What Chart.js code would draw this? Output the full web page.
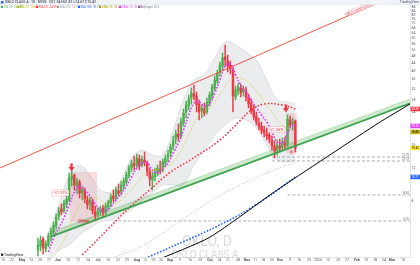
<!DOCTYPE html>
<html>
<head>
<meta charset="utf-8">
<script src="https://cdn.jsdelivr.net/npm/chart.js@4.4.0/dist/chart.umd.min.js"></script>
<style>
  html, body { margin: 0; padding: 0; background: #fff; }
  #wrap { width: 420px; height: 265px; position: relative; }
</style>
</head>
<body>
<div id="wrap"><canvas id="chart"></canvas></div>
<script>
// daily candles, x = bar index
const opens = [
  4.36, 4.58, 5.00, 4.42, 4.64, 5.25, 5.45, 5.87, 6.65, 7.25,
  7.07, 7.71, 8.10, 10.51, 11.04, 9.63, 10.12, 8.83, 9.17, 8.10,
  7.71, 8.00, 6.98, 6.73, 6.98, 7.34, 6.90, 7.43, 7.80, 8.51,
  8.30, 9.06, 8.94, 9.63, 10.12, 10.90, 12.04, 12.65, 12.49, 13.46,
  12.49, 13.29, 12.81, 11.60, 10.38, 10.77, 11.32, 11.89, 11.74, 12.81,
  13.79, 14.49, 15.80, 17.24, 18.34, 17.89, 21.01, 24.08, 25.93, 28.63,
  30.09, 29.35, 26.58, 24.38, 24.99, 24.08, 26.92, 29.35, 32.41, 35.34,
  39.50, 42.55, 47.57, 45.26, 43.08, 40.49, 28.99, 31.22, 32.41, 30.84,
  31.61, 28.99, 26.92, 24.68, 22.91, 21.01, 20.25, 19.27, 18.34, 18.11,
  17.02, 15.80, 15.04, 15.80, 15.61, 16.40, 16.00, 21.81, 20.75, 21.54
];
const highs = [
  5.06, 5.19, 5.12, 4.88, 5.38, 5.73, 6.17, 6.81, 7.43, 7.71,
  8.10, 8.51, 11.32, 12.04, 11.18, 10.64, 10.38, 9.63, 9.40, 8.51,
  8.41, 8.20, 7.52, 7.34, 7.52, 7.61, 7.80, 8.10, 8.73, 9.17,
  9.51, 9.87, 10.25, 10.64, 11.46, 12.49, 13.29, 13.97, 14.32, 14.14,
  13.97, 14.67, 13.13, 12.04, 11.46, 12.04, 12.49, 13.13, 13.46, 14.14,
  15.04, 16.20, 17.89, 19.27, 20.75, 22.35, 24.99, 27.59, 29.72, 32.41,
  33.63, 30.84, 27.93, 26.26, 26.92, 28.63, 30.84, 34.05, 37.60, 40.49,
  44.71, 49.98, 55.19, 48.76, 45.26, 42.03, 33.22, 34.48, 34.05, 33.22,
  32.81, 30.09, 28.28, 26.26, 24.08, 22.35, 21.27, 20.25, 19.75, 19.27,
  17.89, 16.81, 17.02, 17.24, 17.46, 17.67, 23.20, 22.91, 22.35, 21.81
];
const lows = [
  4.05, 4.31, 4.15, 4.26, 4.53, 4.88, 5.19, 5.66, 6.32, 6.73,
  6.90, 7.34, 7.90, 9.63, 9.17, 8.73, 8.30, 8.10, 7.80, 7.25,
  7.16, 6.81, 6.32, 6.48, 6.65, 6.56, 6.73, 7.16, 7.43, 7.90,
  8.10, 8.51, 8.62, 9.28, 9.87, 10.64, 11.46, 11.74, 12.04, 11.74,
  12.19, 12.34, 10.90, 9.63, 9.17, 10.25, 10.90, 11.18, 11.46, 12.34,
  12.97, 13.79, 15.04, 16.20, 16.81, 17.24, 20.25, 22.35, 24.68, 26.58,
  27.93, 24.08, 21.81, 22.35, 22.91, 23.49, 25.93, 28.28, 31.22, 34.05,
  37.60, 40.49, 42.55, 39.50, 38.54, 24.08, 27.93, 29.72, 28.99, 29.35,
  27.59, 25.30, 23.49, 21.81, 20.50, 19.27, 18.34, 17.67, 17.02, 16.40,
  15.04, 13.62, 14.14, 14.67, 15.04, 15.23, 15.61, 19.75, 19.27, 14.67
];
const closes = [
  4.64, 4.94, 4.47, 4.70, 5.19, 5.52, 5.94, 6.56, 7.07, 6.98,
  7.80, 8.20, 10.64, 10.90, 9.75, 10.25, 8.83, 9.28, 8.20, 7.61,
  8.10, 7.07, 6.65, 7.07, 7.25, 6.90, 7.52, 7.90, 8.41, 8.20,
  9.17, 8.83, 9.75, 10.25, 11.04, 12.04, 12.81, 12.34, 13.62, 12.34,
  13.46, 12.97, 11.46, 10.51, 10.90, 11.46, 12.04, 11.60, 12.97, 13.62,
  14.32, 15.61, 17.02, 18.34, 17.67, 21.27, 23.78, 26.26, 28.28, 30.46,
  29.35, 26.26, 24.08, 25.30, 23.78, 27.25, 29.72, 32.81, 35.78, 39.02,
  43.08, 46.98, 45.83, 42.55, 41.00, 29.35, 31.61, 32.81, 30.46, 32.01,
  28.99, 26.58, 24.38, 22.63, 21.27, 20.00, 19.03, 18.57, 17.89, 17.24,
  15.80, 14.86, 16.00, 15.42, 16.60, 16.00, 22.08, 20.50, 21.27, 15.42
];

// fast average (magenta dots)
const fastIdx = [4, 6, 8, 10, 12, 14, 16, 18, 20, 22, 24, 26, 28, 30, 32, 34, 36, 38, 40, 42,
  44, 46, 48, 50, 52, 54, 56, 58, 60, 62, 64, 66, 68, 70, 72, 74, 76, 78, 80, 82,
  84, 86, 88, 90, 92, 94, 96, 98, 99];
const fastMa = [4.26, 5.06, 5.73, 6.48, 7.61, 8.94, 9.63, 9.17, 8.51, 7.71, 7.16, 7.07, 7.43, 8.10, 8.73, 9.63, 10.77, 12.04, 12.81, 12.81,
  11.74, 11.32, 11.89, 12.81, 14.49, 16.40, 19.27, 23.20, 26.92, 27.25, 25.93, 26.58, 30.46, 35.78, 42.55, 43.62, 38.06, 33.63, 30.84, 27.93,
  25.30, 23.20, 21.27, 18.80, 16.60, 16.40, 18.57, 20.50, 20.25];

// thin yellow average
const midIdx = [6, 10, 14, 18, 22, 26, 30, 34, 38, 42, 46, 50, 54, 58, 62, 66, 70, 74, 78, 82, 86, 90, 94, 99];
const midMa = [3.95, 4.94, 6.73, 8.10, 8.30, 7.80, 7.80, 8.62, 10.00, 11.46, 11.74, 12.34, 14.14, 18.11, 23.20, 25.30, 29.72, 35.78, 36.68, 33.63, 28.63, 24.08, 20.50, 18.80];

// red dotted average
const slowIdx = [17, 27, 35, 43, 51, 58, 70, 78, 82, 87, 94, 99];
const slowMa = [4.10, 5.66, 7.34, 9.17, 11.46, 13.13, 17.02, 21.81, 24.68, 26.58, 26.26, 24.99];

// gray dotted average
const longIdx = [28, 42, 58, 74, 89, 99];
const longMa = [3.90, 4.76, 6.73, 9.17, 11.46, 12.97];

// blue dotted average
const blueIdx = [39, 53, 66, 78, 89, 99];
const blueMa = [3.81, 4.64, 5.59, 6.81, 8.51, 10.77];

// envelope band
const bandIdx = [4, 8, 12, 16, 20, 24, 28, 32, 36, 40, 44, 48, 52, 56, 60, 64, 68, 72, 76, 80, 84, 88, 92, 96, 99];
const bandUpper = [5.45, 7.61, 11.04, 12.49, 11.04, 9.17, 8.94, 10.38, 13.62, 15.04, 14.14, 14.14, 19.27, 27.93, 35.78, 38.06, 46.98, 57.27, 55.19, 50.60, 45.83, 35.78, 27.93, 27.25, 26.58];
const bandLower = [3.85, 4.36, 4.64, 5.25, 5.73, 6.17, 6.32, 6.73, 7.16, 8.10, 8.83, 9.75, 9.75, 9.75, 12.49, 15.04, 18.11, 20.50, 22.35, 21.81, 19.75, 16.00, 13.29, 12.97, 13.29];

// drawn trend lines
const greenIdx = [5, 143.1];
const greenLine = [5.15, 26.78];
const greenUpper = [5.45, 28.30];
const blackIdx = [45, 66, 92, 131, 143.1];
const blackLine = [3.81, 5.10, 9.17, 21.01, 26.58];
const redIdx = [-14.6, 143.1];
const redLine = [12.04, 110.6];

// horizontal dashed levels
const levelValues = [13.79, 13.13, 8.62, 6.25];
const levelStart = [90, 90, 96, 29];

// drop measurements
const dropStart = [12.3, 95.4];
const dropEnd = [22.7, 99.6];
const dropHigh = [11.46, 23.78];
const dropLow = [6.17, 14.49];
const dropText = ['-31.31%', '-21.58%'];
const dropBars = ['20 bars', '5'];
const arrowIdx = [12.9, 95.4];

// axes
const xMin = -14.6, xMax = 143.1;
const yMin = 4, yMax = 90.5;
const yTicks = [8, 12, 16, 20, 24, 28, 32, 36, 40, 44, 48, 52, 56, 60, 64, 68, 72, 76, 80, 84, 88];
const xTickPos = [-13.46, -10.0, -6.15, -2.69, 0.77, 4.23, 7.69, 11.54, 15.38, 19.23, 23.08, 26.92, 30.77, 34.23,
  38.08, 41.15, 44.23, 47.31, 50.77, 54.62, 58.46, 62.31, 66.15, 69.62, 73.08, 76.92, 80.38, 83.46, 86.54, 90.0,
  93.08, 96.92, 100.38, 104.23, 107.69, 111.54, 115.38, 118.85, 122.69, 126.15, 129.62, 133.08, 136.15, 140.4];
const xTickText = ['15', '22', 'May', '13', '20', '27', 'Jun', '10', '17', '24', 'Jul', '15', '22', '29',
  'Aug', '12', '19', '26', 'Sep', '9', '16', '23', 'Oct', '14', '21', '28', 'Nov', '11', '18', '25',
  'Dec', '9', '16', '23', '2025', '13', '20', '27', 'Feb', '10', '18', '24', 'Mar', '10'];

const upColor = '#4caf50';
const downColor = '#f23645';
const FONT = 'Roboto, "Liberation Sans", sans-serif';
Chart.defaults.font.family = FONT;

const pts = (xs, ys) => xs.map((v, k) => ({ x: v, y: ys[k] }));
const candleColors = closes.map((c, i) => (c >= opens[i] ? upColor : downColor));
const wicks = closes.map((c, i) => ({ x: i, y: [lows[i], highs[i]] }));
const bodies = closes.map((c, i) => ({ x: i, y: [opens[i], c] }));

const flat = { type: 'line', pointRadius: 0, fill: false };
const levelSets = levelValues.map((v, k) => ({
  ...flat,
  data: [{ x: levelStart[k], y: v }, { x: xMax, y: v }],
  borderColor: '#9598a1',
  borderWidth: 0.8,
  borderDash: [3, 2],
  order: 7
}));

const decor = {
  id: 'decor',
  beforeDatasetsDraw(chart) {
    const { ctx, scales: { x, y } } = chart;
    ctx.save();
    ctx.fillStyle = 'rgba(120,123,134,0.28)';
    ctx.textAlign = 'center';
    ctx.textBaseline = 'alphabetic';
    ctx.font = '14px ' + FONT;
    ctx.fillText('OKLO, D', 207, 246);
    ctx.font = '10px ' + FONT;
    ctx.fillText('OKLO CLASS A', 205, 258);
    dropStart.forEach((s, k) => {
      const l = x.getPixelForValue(s), r = x.getPixelForValue(dropEnd[k]);
      const t = y.getPixelForValue(dropHigh[k]), b = y.getPixelForValue(dropLow[k]);
      ctx.fillStyle = 'rgba(242,54,69,0.17)';
      ctx.fillRect(l, t, r - l, b - t);
    });
    ctx.restore();
  },
  afterDatasetsDraw(chart) {
    const { ctx, chartArea: a, scales: { x, y } } = chart;
    ctx.save();
    ctx.textBaseline = 'middle';
    dropStart.forEach((s, k) => {
      const l = x.getPixelForValue(s), r = x.getPixelForValue(dropEnd[k]);
      const t = y.getPixelForValue(dropHigh[k]), b = y.getPixelForValue(dropLow[k]);
      // arrow
      const ax = x.getPixelForValue(arrowIdx[k]);
      const tip = t - 0.5;
      ctx.fillStyle = '#f23645';
      ctx.fillRect(ax - 1.2, tip - 8, 2.4, 4);
      ctx.beginPath();
      ctx.moveTo(ax - 3, tip - 4.5);
      ctx.lineTo(ax + 3, tip - 4.5);
      ctx.lineTo(ax, tip);
      ctx.closePath();
      ctx.fill();
      // percent label
      ctx.font = '4px ' + FONT;
      const w = ctx.measureText(dropText[k]).width + 3;
      const my = t + (b - t) * 0.42;
      ctx.fillStyle = 'rgba(255,255,255,0.85)';
      ctx.fillRect(l - 1 - w, my - 3, w, 6);
      ctx.strokeStyle = 'rgba(242,54,69,0.45)';
      ctx.lineWidth = 0.5;
      ctx.strokeRect(l - 1 - w, my - 3, w, 6);
      ctx.fillStyle = '#f23645';
      ctx.textAlign = 'center';
      ctx.fillText(dropText[k], l - 1 - w / 2, my);
      // bars label
      ctx.font = '3px ' + FONT;
      const w2 = ctx.measureText(dropBars[k]).width + 2;
      const cx = (l + r) / 2;
      ctx.fillStyle = 'rgba(242,54,69,0.25)';
      ctx.fillRect(cx - w2 / 2, b - 2.5, w2, 4);
      ctx.fillStyle = '#b22833';
      ctx.fillText(dropBars[k], cx, b - 0.5);
    });
    // label on the red channel line
    const p0x = x.getPixelForValue(redIdx[0]), p0y = y.getPixelForValue(redLine[0]);
    const p1x = x.getPixelForValue(redIdx[1]), p1y = y.getPixelForValue(redLine[1]);
    const lx = 360, ly = p0y + (lx - p0x) / (p1x - p0x) * (p1y - p0y);
    ctx.translate(lx, ly - 2);
    ctx.rotate(Math.atan2(p1y - p0y, p1x - p0x));
    ctx.font = '3.5px ' + FONT;
    ctx.textAlign = 'center';
    ctx.strokeStyle = 'rgba(242,54,69,0.5)';
    ctx.lineWidth = 0.4;
    ctx.fillStyle = 'rgba(255,255,255,0.7)';
    ctx.fillRect(-13, -2.2, 26, 4.4);
    ctx.strokeRect(-13, -2.2, 26, 4.4);
    ctx.fillStyle = '#f23645';
    ctx.fillText('OKLO upper channel', 0, 0);
    ctx.setTransform(1, 0, 0, 1, 0, 0);
    // level captions
    ctx.font = '3px ' + FONT;
    ctx.textAlign = 'right';
    ctx.fillStyle = '#6a6d78';
    levelValues.forEach(v => {
      ctx.fillText(v.toFixed(2), a.right - 1, y.getPixelForValue(v) - 1.8);
    });
    ctx.restore();
  },
  afterDraw(chart) {
    const { ctx, chartArea: a, scales: { y } } = chart;
    ctx.save();
    ctx.textBaseline = 'middle';
    // price tags on the axis
    const tags = [
      { v: slowMa[slowMa.length - 1], bg: '#f23645', fg: '#fff' },
      { v: fastMa[fastMa.length - 1], bg: '#e040fb', fg: '#fff' },
      { v: midMa[midMa.length - 1], bg: '#cbb91c', fg: '#000' },
      { v: closes[closes.length - 1], bg: '#ffeb3b', fg: '#000' },
      { v: blueMa[blueMa.length - 1], bg: '#2962ff', fg: '#fff' }
    ];
    ctx.font = '3px ' + FONT;
    ctx.textAlign = 'center';
    tags.forEach(tg => {
      const py = y.getPixelForValue(tg.v);
      ctx.fillStyle = tg.bg;
      ctx.fillRect(a.right + 0.5, py - 2.3, 9.5, 4.6);
      ctx.fillStyle = tg.fg;
      ctx.fillText(tg.v.toFixed(2), a.right + 5.2, py);
    });
    // header strip
    ctx.fillStyle = '#f0f3fa';
    ctx.fillRect(0, 0, 420, 4.5);
    ctx.fillStyle = '#e0e3eb';
    ctx.fillRect(0, 4.5, 420, 0.6);
    ctx.fillStyle = '#2962ff';
    ctx.fillRect(1, 1, 2.5, 2.5);
    ctx.textAlign = 'left';
    ctx.font = '3.5px ' + FONT;
    ctx.fillStyle = '#131722';
    const n = closes.length - 1;
    ctx.fillText('OKLO CLASS A \u00b7 1D \u00b7 NYSE   O' + opens[n].toFixed(2) + ' H' + highs[n].toFixed(2) +
      ' L' + lows[n].toFixed(2) + ' C' + closes[n].toFixed(2), 5, 2.4);
    ctx.textAlign = 'right';
    ctx.fillStyle = '#50535e';
    ctx.fillText('TradingView', 419, 2.4);
    // indicator legend
    const legend = [
      { x: 1, c: '#4caf50', t: 'Vol 20  12.3M' },
      { x: 17, c: '#cbb91c', t: 'MA 20  ' + midMa[midMa.length - 1].toFixed(2) },
      { x: 36, c: '#f23645', t: 'MA 50  ' + slowMa[slowMa.length - 1].toFixed(2) },
      { x: 57, c: '#9598a1', t: 'MA 200  ' + longMa[longMa.length - 1].toFixed(2) },
      { x: 78, c: '#2962ff', t: 'MA 100  ' + blueMa[blueMa.length - 1].toFixed(2) },
      { x: 99, c: '#a59a00', t: 'EMA 30  18.41' },
      { x: 119, c: '#e040fb', t: 'EMA 10  ' + fastMa[fastMa.length - 1].toFixed(2) },
      { x: 138, c: '#787b86', t: 'Bollinger 20 2' }
    ];
    ctx.textAlign = 'left';
    ctx.font = '3px ' + FONT;
    legend.forEach(it => {
      ctx.fillStyle = it.c;
      ctx.fillRect(it.x, 5.8, 2.2, 2.2);
      ctx.fillText(it.t, it.x + 3, 7);
    });
    // logo
    ctx.fillStyle = '#131722';
    ctx.font = '3.5px ' + FONT;
    ctx.fillText('TradingView', 4, 255);
    ctx.fillRect(1, 253.6, 2.2, 2.2);
    ctx.restore();
  }
};

new Chart(document.getElementById('chart'), {
  type: 'bar',
  data: {
    datasets: [
      { ...flat, data: pts(bandIdx, bandUpper), fill: '+1', backgroundColor: 'rgba(190,193,200,0.3)',
        borderColor: 'rgba(160,163,172,0.45)', borderWidth: 0.6, tension: 0.35, order: 9 },
      { ...flat, data: pts(bandIdx, bandLower), borderColor: 'rgba(160,163,172,0.45)', borderWidth: 0.6, tension: 0.35, order: 9 },
      { ...flat, data: pts(greenIdx, greenUpper), fill: '+1', backgroundColor: 'rgba(76,175,80,0.28)',
        borderColor: 'rgba(76,175,80,0.4)', borderWidth: 0.7, order: 8 },
      { ...flat, data: pts(greenIdx, greenLine), borderColor: '#3fa34d', borderWidth: 1.7, order: 2 },
      ...levelSets,
      { type: 'bar', data: wicks, backgroundColor: candleColors, barThickness: 0.8, grouped: false, order: 5 },
      { type: 'bar', data: bodies, backgroundColor: candleColors, barThickness: 1.8, grouped: false, order: 4 },
      { ...flat, data: pts(midIdx, midMa), borderColor: '#d9c62a', borderWidth: 0.7, borderDash: [1, 1], tension: 0.4, order: 3 },
      { ...flat, data: pts(longIdx, longMa), borderColor: '#a3a6af', borderWidth: 0.8, borderDash: [1, 1.8], tension: 0.4, order: 3 },
      { ...flat, data: pts(blueIdx, blueMa), borderColor: '#2962ff', borderWidth: 1.6, borderDash: [1.6, 1.6], tension: 0.3, order: 3 },
      { ...flat, data: pts(slowIdx, slowMa), borderColor: '#f23645', borderWidth: 1.6, borderDash: [1.6, 1.8], tension: 0.4, order: 3 },
      { ...flat, data: pts(fastIdx, fastMa), borderColor: '#e040fb', borderWidth: 1.8, borderDash: [1.6, 1.6], tension: 0.4, order: 3 },
      { ...flat, data: pts(blackIdx, blackLine), borderColor: '#000', borderWidth: 1, tension: 0.2, order: 1 },
      { ...flat, data: pts(redIdx, redLine), borderColor: '#f44336', borderWidth: 0.9, order: 1 }
    ]
  },
  options: {
    responsive: true,
    maintainAspectRatio: false,
    animation: false,
    devicePixelRatio: 1,
    layout: { padding: { top: 5, left: 0, right: 0, bottom: 0 } },
    plugins: { legend: { display: false }, tooltip: { enabled: false } },
    scales: {
      x: {
        type: 'linear',
        min: xMin,
        max: xMax,
        offset: false,
        grid: { display: false, drawTicks: false, offset: false },
        border: { color: '#d1d4dc', width: 0.6 },
        afterFit: s => { s.height = 8; },
        afterBuildTicks: s => { s.ticks = xTickPos.map(v => ({ value: v })); },
        ticks: {
          autoSkip: false,
          maxRotation: 0,
          padding: 1,
          color: '#50535e',
          font: c => ({ size: 3.5, weight: isNaN(Number(xTickText[c.index])) ? 'bold' : 'normal' }),
          callback: (v, i) => xTickText[i]
        }
      },
      y: {
        type: 'logarithmic',
        position: 'right',
        min: yMin,
        max: yMax,
        grid: { display: false, drawTicks: false },
        border: { color: '#d1d4dc', width: 0.6 },
        afterFit: s => { s.width = 10; },
        afterBuildTicks: s => { s.ticks = yTicks.map(v => ({ value: v })); },
        ticks: { padding: 1.5, color: '#50535e', font: { size: 3.5 }, callback: v => String(v) }
      }
    }
  },
  plugins: [decor]
});
</script>
</body>
</html>
